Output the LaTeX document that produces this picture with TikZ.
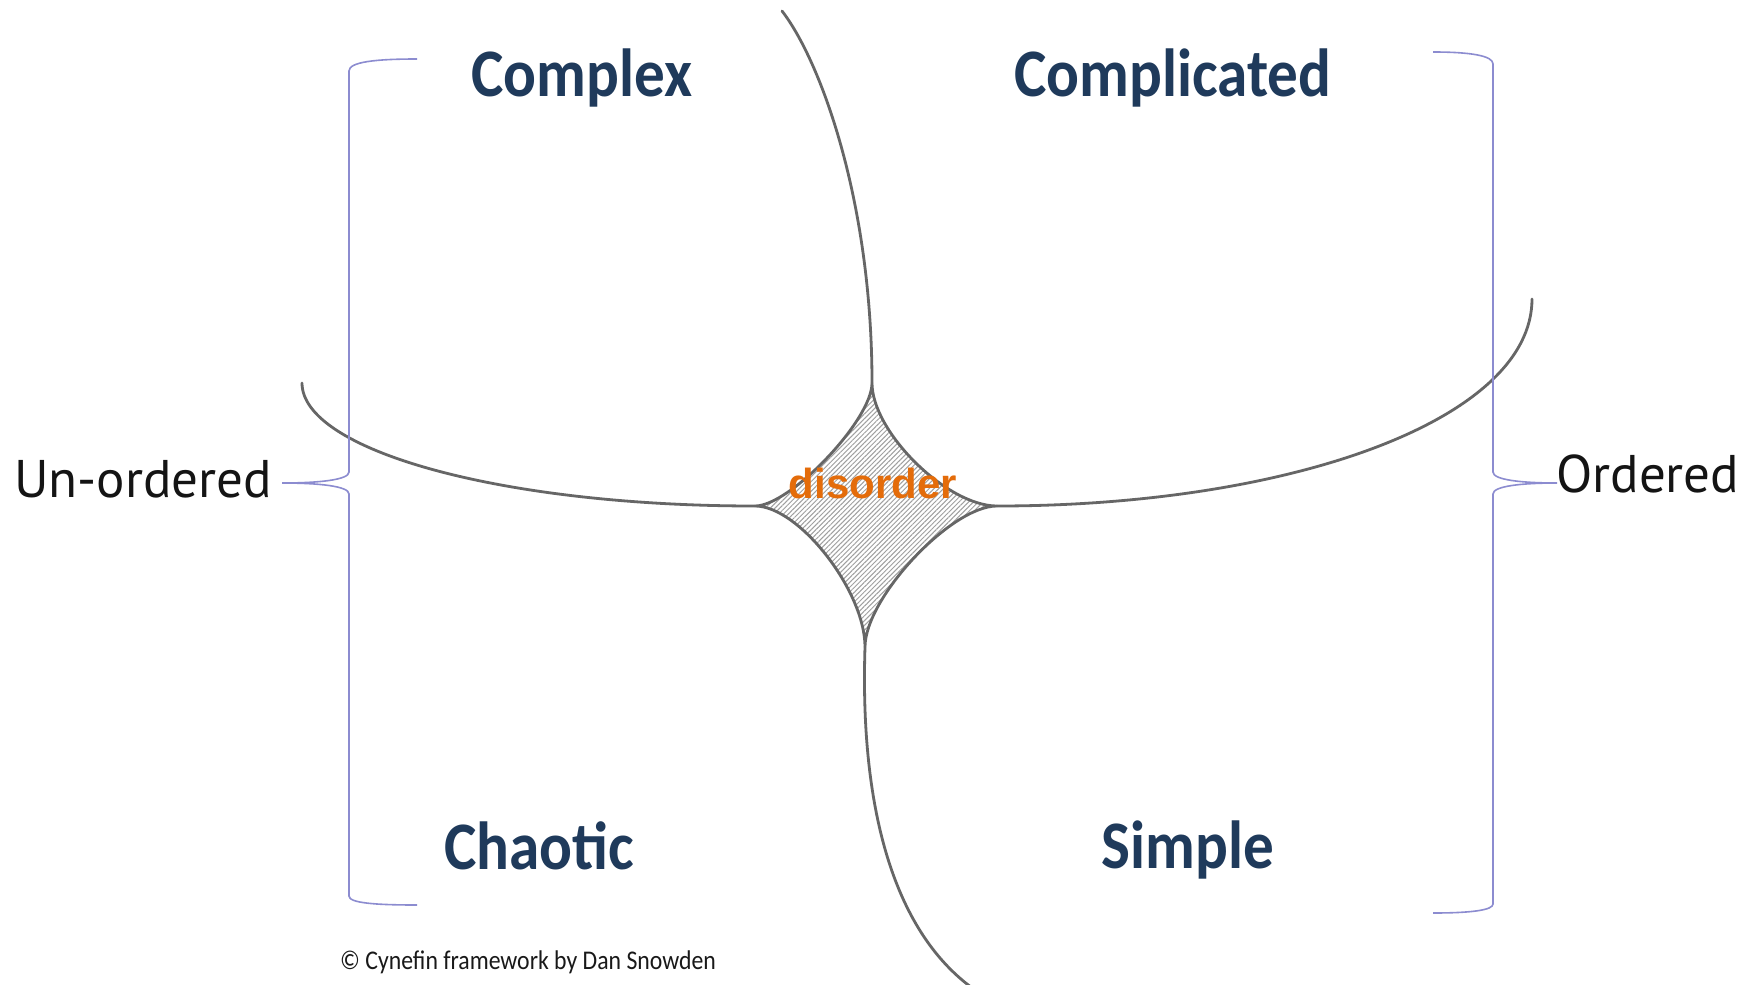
\documentclass[tikz,border=0pt]{standalone}
\usepackage{fontspec}
\usepackage{graphicx}
\usetikzlibrary{patterns.meta}
\newfontfamily\domainfont{Carlito}
\newfontfamily\disfont{Liberation Sans}
\newfontfamily\sidefont{PT Sans}
\definecolor{domainblue}{RGB}{31,58,91}
\definecolor{disorange}{RGB}{228,108,10}
\definecolor{bracelav}{RGB}{140,140,208}
\definecolor{edgegray}{RGB}{102,102,102}
\tikzset{
  boundary/.style={draw=edgegray, line width=2.8pt, line cap=round},
  bracket/.style={draw=bracelav, line width=1.6pt},
  domainname/.style={anchor=base, inner sep=0pt, text=domainblue,
    font=\domainfont\bfseries\fontsize{68}{80}\selectfont},
  sidelabel/.style={anchor=base west, inner sep=0pt, text=black!92,
    font=\sidefont\fontsize{53}{60}\selectfont},
}
\newcommand{\squish}[1]{\scalebox{0.9}[1]{#1}}
\newcommand{\starpath}{%
  (cL) .. controls (790,506) and (872,420) .. (cT)
       .. controls (872,432) and (947,506) .. (cR)
       .. controls (951,506) and (865,598) .. (cB)
       .. controls (865,591) and (799,506) .. (cL) -- cycle}
\begin{document}
\begin{tikzpicture}[x=1pt,y=-1pt]
\useasboundingbox[fill=white] (0,0) rectangle (1756,985);

% central disorder region: four concave arcs meeting at cusps
\coordinate (cL) at (755,506);
\coordinate (cT) at (872,383);
\coordinate (cR) at (997,506);
\coordinate (cB) at (865,647);
\path[pattern={Lines[angle=45,distance=3.4pt,line width=1pt]}, pattern color=gray!75]
  \starpath;
\draw[boundary] \starpath;

% outer boundaries between the four domains
\coordinate (eTop) at (782,11);
\coordinate (eLeft) at (302,383);
\coordinate (eRight) at (1532,299);
\coordinate (eBottom) at (975,990);
\draw[boundary] (eTop) .. controls (820,60) and (872,200) .. (cT);
\draw[boundary] (eLeft) .. controls (302,450) and (500,506) .. (cL);
\draw[boundary] (cR) .. controls (1290,506) and (1532,420) .. (eRight);
\draw[boundary] (cB) .. controls (860,800) and (890,930) .. (eBottom);

% curly brackets grouping the domains
\draw[bracket] (417,59) .. controls (375,59) and (349,62) .. (349,71)
  -- (349,472) .. controls (349,480) and (318,483) .. (282,483)
  .. controls (318,483) and (349,486) .. (349,494)
  -- (349,896) .. controls (349,903) and (375,905) .. (417,905);
\draw[bracket] (1433,52) .. controls (1472,52) and (1493,56) .. (1493,64)
  -- (1493,472) .. controls (1493,480) and (1522,483) .. (1557,483)
  .. controls (1522,483) and (1493,486) .. (1493,494)
  -- (1493,904) .. controls (1493,910) and (1472,913) .. (1433,913);

% domain names
\node[domainname] (complex) at (582,96) {\squish{Complex}};
\node[domainname] (complicated) at (1173,96) {\squish{Complicated}};
\node[domainname] (chaotic) at (539,869) {\squish{Chaotic}};
\node[domainname] (simple) at (1188,868) {\squish{Simple}};
\node[anchor=base, inner sep=0pt, text=disorange,
  font=\disfont\bfseries\fontsize{42}{48}\selectfont] (disorder) at (873,498) {disorder};

% side labels
\node[sidelabel] (unordered) at (14,497) {Un-ordered};
\node[sidelabel] (ordered) at (1556,492) {Ordered};

% credit line
\node[anchor=base west, inner sep=0pt, text=black!90,
  font=\domainfont\fontsize{27}{32}\selectfont] (credit) at (340,969)
  {\scalebox{0.88}[1]{© Cynefin framework by Dan Snowden}};
\end{tikzpicture}
\end{document}
